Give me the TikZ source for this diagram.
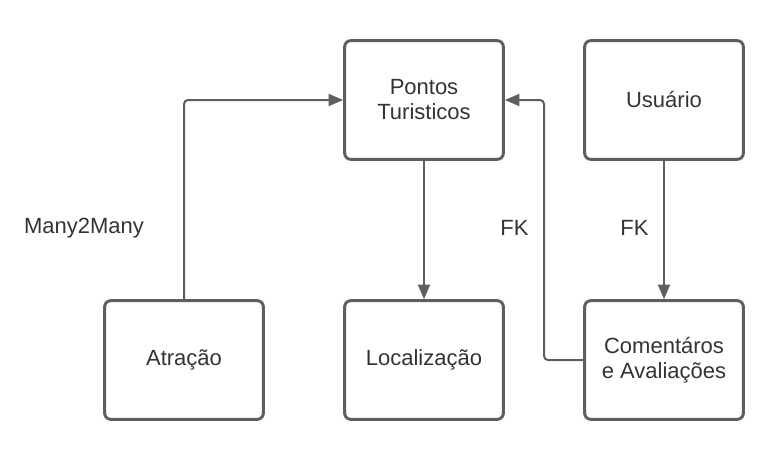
\documentclass[tikz,border=0pt]{standalone}
\usepackage{fontspec}
\setmainfont{Liberation Sans}
\usetikzlibrary{arrows.meta}
\definecolor{linegray}{HTML}{5E5E5E}
\definecolor{textgray}{HTML}{333333}
\tikzset{
  box/.style={draw=linegray, line width=2.2pt, rounded corners=4.5pt, minimum width=119pt, minimum height=89pt, inner sep=0pt, align=center, text=textgray, font=\fontsize{16.5}{18.8}\selectfont},
  conn/.style={draw=linegray, line width=1.5pt, rounded corners=3pt, -{Triangle[width=9pt,length=11pt]}},
  lbl/.style={text=textgray, font=\fontsize{16.5}{18.8}\selectfont, inner sep=0pt}
}
\begin{document}
\begin{tikzpicture}[x=0.75pt,y=-0.75pt]
\useasboundingbox (0,0) rectangle (784,460);
\node[box] (pontos) at (424,100) {Pontos\\Turisticos};
\node[box] (usu) at (664,100) {Usuário};
\node[box] (atr) at (184,360) {Atração};
\node[box] (loc) at (424,360) {Localização};
\node[box] (com) at (664,360) {Comentáros\\e Avaliações};
\coordinate (bend) at (544,360);
\draw[conn] (atr.north) |- (pontos.west);
\draw[conn] (pontos.south) -- (loc.north);
\draw[conn] (usu.south) -- (com.north);
\draw[conn] (com.west) -- (bend) |- (pontos.east);
\node[lbl] (m2m) at (84,228) {Many2Many};
\node[lbl] (fk1) at (514.5,228) {FK};
\node[lbl] (fk2) at (634.5,228) {FK};
\end{tikzpicture}
\end{document}
